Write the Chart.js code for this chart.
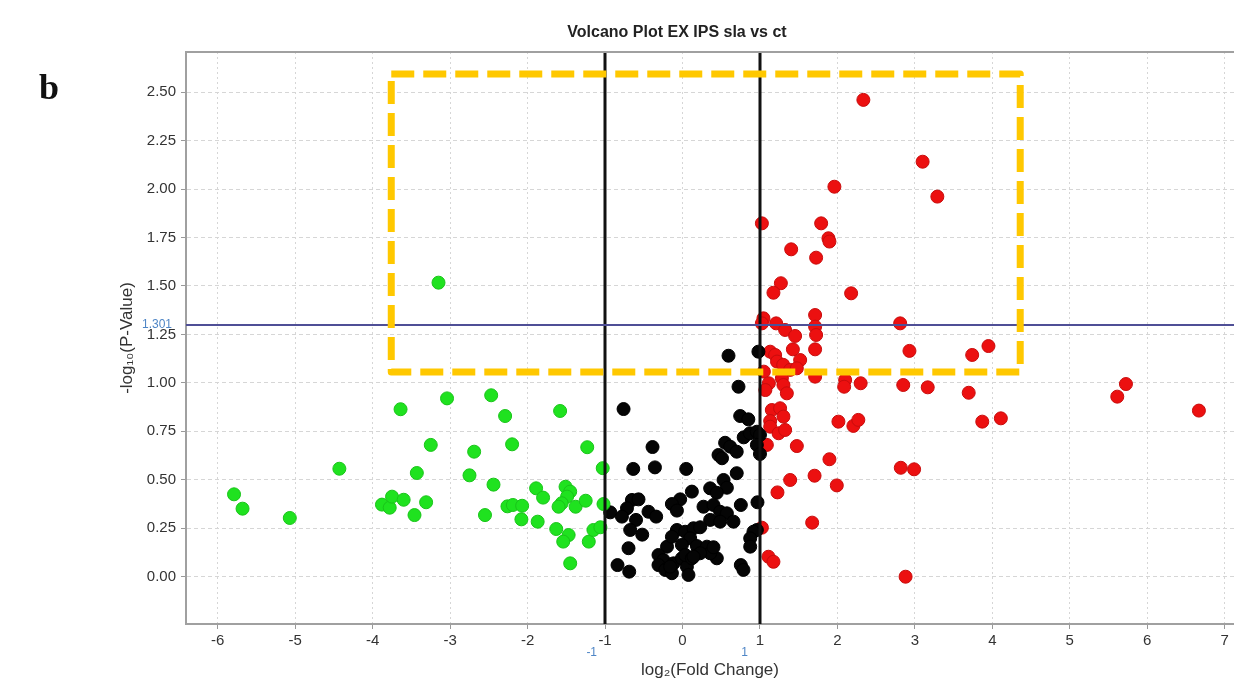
<!DOCTYPE html>
<html>
<head>
<meta charset="utf-8">
<title>Volcano Plot EX IPS sla vs ct</title>
<script src="https://cdn.jsdelivr.net/npm/chart.js@4.4.1/dist/chart.umd.min.js"></script>
<style>
  html, body { margin: 0; padding: 0; background: #fff; }
  #wrap { width: 1234px; height: 681px; position: relative; }
</style>
</head>
<body>
<div id="wrap"><canvas id="volcano"></canvas></div>
<script>
// tick labels
const xTicks = [-6, -5, -4, -3, -2, -1, 0, 1, 2, 3, 4, 5, 6, 7];
const yTicks = [0, 0.25, 0.5, 0.75, 1, 1.25, 1.5, 1.75, 2, 2.25, 2.5];

// thresholds
const pCut = 1.301;
const fcCut = [-1, 1];

// highlighted region (yellow box)
const boxX = [-3.76, 4.36];
const boxY = [1.056, 2.594];

// down-regulated (green)
const downX = [-3.15, -3.04, -2.47, -3.64, -2.29, -3.25, -2.20, -2.69, -4.43, -3.43, -2.75, -2.44,
  -5.79, -5.68, -5.07, -3.88, -3.78, -3.75, -3.60, -3.31, -3.46, -2.55, -2.26, -2.19, -2.08,
  -1.58, -1.23, -1.03, -1.89, -1.80, -1.51, -1.45, -1.49, -1.56, -1.60, -1.38, -1.25, -1.02,
  -2.07, -1.87, -1.63, -1.47, -1.54, -1.21, -1.15, -1.06, -1.45];
const downY = [1.517, 0.92, 0.936, 0.864, 0.829, 0.68, 0.683, 0.645, 0.557, 0.535, 0.523, 0.475,
  0.425, 0.351, 0.303, 0.372, 0.356, 0.413, 0.397, 0.384, 0.318, 0.318, 0.363, 0.37, 0.296,
  0.855, 0.668, 0.56, 0.456, 0.408, 0.464, 0.439, 0.413, 0.379, 0.361, 0.361, 0.392, 0.375,
  0.366, 0.284, 0.246, 0.215, 0.181, 0.181, 0.241, 0.255, 0.069];

// not significant (black)
const nsX = [0.594, 0.98, 0.723, -0.761, 0.745, 0.85, 0.79, 0.87, 0.96, 1.0, 0.96, 1.0,
  0.55, 0.615, 0.70, 0.465, 0.51, -0.387, -0.636, -0.356, 0.048, 0.70, 0.53, 0.573,
  0.357, 0.443, 0.121, -0.03, -0.137, -0.072, -0.653, -0.568, -0.717, -0.933, -0.782, -0.60,
  -0.439, -0.34, 0.271, 0.40, 0.486, 0.573, 0.658, 0.357, 0.486, 0.753, 0.968, -0.675,
  -0.52, 0.96, 0.916, 0.874, 0.874, -0.697, -0.839, -0.688, 0.753, 0.787, 0.443,
  -0.20, -0.072, 0.035, 0.142, 0.228, -0.137, 0.099, -0.008, 0.186, 0.315, 0.357, -0.31,
  -0.245, -0.31, -0.223, -0.137, -0.116, -0.008, 0.057, 0.077, 0.035, 0.121, 0.228, 0.40,
  -0.159, 0.143];
const nsY = [1.14, 1.161, 0.98, 0.865, 0.829, 0.812, 0.719, 0.74, 0.748, 0.731, 0.68, 0.633,
  0.691, 0.671, 0.645, 0.628, 0.611, 0.669, 0.556, 0.564, 0.556, 0.534, 0.499, 0.459,
  0.456, 0.433, 0.439, 0.399, 0.375, 0.341, 0.396, 0.399, 0.353, 0.332, 0.31, 0.293,
  0.335, 0.31, 0.361, 0.37, 0.335, 0.327, 0.284, 0.293, 0.284, 0.37, 0.384, 0.241,
  0.217, 0.241, 0.232, 0.198, 0.155, 0.147, 0.06, 0.026, 0.06, 0.035, 0.095,
  0.155, 0.241, 0.232, 0.25, 0.255, 0.206, 0.198, 0.164, 0.158, 0.155, 0.121, 0.112,
  0.086, 0.06, 0.035, 0.018, 0.069, 0.095, 0.052, 0.009, 0.112, 0.095, 0.121, 0.152,
  0.052, 0.103];

// up-regulated (red)
const upX = [2.335, 3.10, 3.29, 1.961, 1.025, 1.79, 1.884, 1.897, 1.403, 1.725, 1.27, 1.174,
  2.177, 1.045, 1.025, 1.209, 1.712, 1.712, 1.725, 1.325, 1.454, 2.81, 1.425, 1.712,
  1.132, 1.196, 1.519, 2.93, 3.74, 3.95, 1.22, 1.30, 1.39, 1.476, 1.05, 1.115, 1.07,
  1.283, 1.303, 1.347, 1.712, 2.1, 2.087, 2.30, 2.85, 3.166, 3.695, 1.153, 1.26, 1.303,
  1.132, 1.132, 1.24, 1.325, 2.013, 2.206, 2.27, 3.87, 4.11, 1.089, 1.476, 1.897, 2.818,
  2.99, 1.705, 1.39, 1.992, 1.226, 1.674, 1.025, 1.11, 1.174, 2.88, 5.725, 5.613, 6.667];
const upY = [2.46, 2.141, 1.961, 2.012, 1.823, 1.823, 1.746, 1.729, 1.689, 1.646, 1.514, 1.465,
  1.462, 1.333, 1.307, 1.307, 1.35, 1.29, 1.247, 1.273, 1.242, 1.307, 1.173, 1.173,
  1.161, 1.144, 1.118, 1.165, 1.144, 1.19, 1.11, 1.093, 1.067, 1.075, 1.058, 0.998, 0.963,
  1.024, 0.989, 0.946, 1.032, 1.015, 0.98, 0.998, 0.989, 0.977, 0.949, 0.86, 0.869, 0.826,
  0.803, 0.774, 0.74, 0.757, 0.80, 0.778, 0.809, 0.80, 0.817, 0.68, 0.674, 0.606, 0.562,
  0.554, 0.521, 0.499, 0.471, 0.435, 0.279, 0.253, 0.103, 0.077, 0.0, 0.994, 0.929, 0.857];

const pts = (xs, ys) => xs.map((x, i) => ({ x: x, y: ys[i] }));
const font = 'Arial, "Liberation Sans", sans-serif';

// threshold lines, yellow box and extra labels drawn on top of the points
const overlay = {
  id: 'overlay',
  afterDatasetsDraw(chart) {
    const { ctx, chartArea: a, scales: { x, y } } = chart;
    ctx.save();
    ctx.beginPath();
    ctx.rect(a.left, a.top, a.right - a.left, a.bottom - a.top);
    ctx.clip();

    ctx.strokeStyle = '#111';
    ctx.lineWidth = 3;
    fcCut.forEach(v => {
      const px = Math.round(x.getPixelForValue(v));
      ctx.beginPath();
      ctx.moveTo(px, a.top);
      ctx.lineTo(px, a.bottom);
      ctx.stroke();
    });

    ctx.strokeStyle = '#4f4f96';
    ctx.lineWidth = 2;
    const py = Math.round(y.getPixelForValue(pCut));
    ctx.beginPath();
    ctx.moveTo(a.left, py);
    ctx.lineTo(a.right, py);
    ctx.stroke();

    ctx.strokeStyle = '#ffc800';
    ctx.lineWidth = 7;
    ctx.lineJoin = 'round';
    ctx.setLineDash([23, 9]);
    const bx0 = x.getPixelForValue(boxX[0]), bx1 = x.getPixelForValue(boxX[1]);
    const by0 = y.getPixelForValue(boxY[1]), by1 = y.getPixelForValue(boxY[0]);
    ctx.strokeRect(bx0, by0, bx1 - bx0, by1 - by0);
    ctx.restore();

    // top frame line
    ctx.save();
    ctx.strokeStyle = '#a0a0a0';
    ctx.lineWidth = 2;
    ctx.beginPath();
    ctx.moveTo(a.left, a.top);
    ctx.lineTo(a.right, a.top);
    ctx.stroke();

    // threshold value labels
    ctx.fillStyle = '#4f86c6';
    ctx.font = '12px ' + font;
    ctx.textBaseline = 'middle';
    ctx.textAlign = 'right';
    ctx.fillText(String(pCut), a.left - 14, py);
    ctx.fillText(String(fcCut[0]), x.getPixelForValue(fcCut[0]) - 8, a.bottom + 29);
    ctx.fillText(String(fcCut[1]), x.getPixelForValue(fcCut[1]) - 12, a.bottom + 29);

    // title and panel letter
    ctx.fillStyle = '#222';
    ctx.textAlign = 'center';
    ctx.font = 'bold 16px ' + font;
    ctx.fillText('Volcano Plot EX IPS sla vs ct', 677, 33);
    ctx.textAlign = 'left';
    ctx.fillStyle = '#111';
    ctx.font = 'bold 36px "Liberation Serif", "DejaVu Serif", serif';
    ctx.fillText('b', 39, 90);
    ctx.restore();
  }
};

new Chart(document.getElementById('volcano'), {
  type: 'scatter',
  data: {
    datasets: [
      { label: 'down', data: pts(downX, downY), backgroundColor: '#1fe21f', borderColor: '#19c419' },
      { label: 'ns', data: pts(nsX, nsY), backgroundColor: '#050505', borderColor: '#000' },
      { label: 'up', data: pts(upX, upY), backgroundColor: '#ec1010', borderColor: '#c80c0c' }
    ]
  },
  options: {
    responsive: true,
    maintainAspectRatio: false,
    animation: false,
    layout: { autoPadding: false, padding: { top: 52, right: 0, left: 0, bottom: 0 } },
    elements: { point: { radius: 6.5, borderWidth: 1, hoverRadius: 6.5 } },
    plugins: {
      legend: { display: false },
      tooltip: { enabled: false },
      title: { display: false }
    },
    scales: {
      x: {
        type: 'linear',
        min: -6.41,
        max: 7.12,
        afterFit: s => { s.height = 57; s.paddingLeft = 0; s.paddingRight = 0; },
        afterBuildTicks: s => { s.ticks = xTicks.map(v => ({ value: v })); },
        grid: { color: '#d6d6d6', tickLength: 5, tickColor: '#999', tickBorderDash: [] },
        border: { display: true, color: '#a0a0a0', width: 2, dash: [2, 3] },
        ticks: { color: '#333', font: { family: font, size: 15 }, padding: 3,
                 callback: v => String(v) },
        title: { display: true, text: 'log₂(Fold Change)', color: '#333',
                 font: { family: font, size: 17 }, padding: { top: 0, bottom: 0 } }
      },
      y: {
        type: 'linear',
        min: -0.244,
        max: 2.707,
        afterFit: s => { s.width = 186; s.paddingTop = 0; s.paddingBottom = 0; },
        afterBuildTicks: s => { s.ticks = yTicks.map(v => ({ value: v })); },
        grid: { color: '#d6d6d6', tickLength: 5, tickColor: '#999', tickBorderDash: [] },
        border: { display: true, color: '#a0a0a0', width: 2, dash: [4, 3] },
        ticks: { color: '#333', font: { family: font, size: 15 }, padding: 5,
                 callback: v => Number(v).toFixed(2) },
        title: { display: true, text: '-log₁₀(P-Value)', color: '#333',
                 font: { family: font, size: 17 }, padding: { top: 117, bottom: 0 } }
      }
    }
  },
  plugins: [overlay]
});
</script>
</body>
</html>
